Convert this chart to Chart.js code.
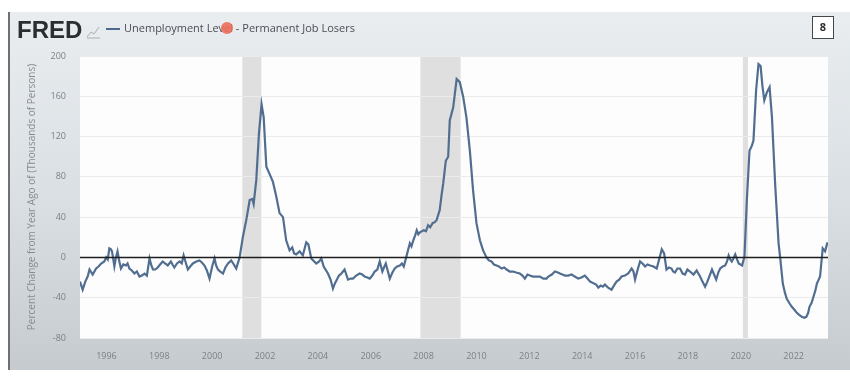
<!DOCTYPE html>
<html>
<head>
<meta charset="utf-8">
<script src="https://cdn.jsdelivr.net/npm/chart.js@4.4.0/dist/chart.umd.min.js"></script>
<style>
  html, body { margin: 0; padding: 0; background: #fff; }
</style>
</head>
<body>
<canvas id="fred" width="850" height="378"></canvas>
<script>
// monthly-ish readings, x as fractional year
const years = [
  1995.00, 1995.10, 1995.20, 1995.29, 1995.36, 1995.48, 1995.61, 1995.70, 1995.80, 1995.92,
  1995.99, 1996.05, 1996.11, 1996.17, 1996.21, 1996.26, 1996.30, 1996.36, 1996.42, 1996.48,
  1996.55, 1996.64, 1996.74, 1996.80, 1996.87, 1996.96, 1997.06, 1997.15, 1997.25, 1997.34,
  1997.44, 1997.53, 1997.63, 1997.70, 1997.76, 1997.85, 1997.94, 1998.03, 1998.13, 1998.22,
  1998.32, 1998.44, 1998.50, 1998.57, 1998.67, 1998.77, 1998.85, 1998.92, 1999.00, 1999.08,
  1999.17, 1999.27, 1999.40, 1999.52, 1999.61, 1999.71, 1999.80, 1999.90, 2000.00, 2000.09,
  2000.15, 2000.22, 2000.31, 2000.41, 2000.50, 2000.60, 2000.72, 2000.82, 2000.91, 2001.04,
  2001.16, 2001.29, 2001.42, 2001.52, 2001.57, 2001.67, 2001.77, 2001.87, 2001.95, 2002.05,
  2002.17, 2002.30, 2002.43, 2002.55, 2002.68, 2002.80, 2002.93, 2003.03, 2003.10, 2003.18,
  2003.31, 2003.43, 2003.56, 2003.64, 2003.75, 2003.94, 2004.05, 2004.13, 2004.22, 2004.38,
  2004.48, 2004.57, 2004.64, 2004.72, 2004.80, 2004.89, 2005.01, 2005.14, 2005.25, 2005.33,
  2005.45, 2005.58, 2005.68, 2005.77, 2005.87, 2005.96, 2006.06, 2006.15, 2006.25, 2006.34,
  2006.44, 2006.50, 2006.57, 2006.65, 2006.72, 2006.82, 2006.91, 2007.00, 2007.10, 2007.18,
  2007.25, 2007.38, 2007.48, 2007.54, 2007.61, 2007.68, 2007.74, 2007.80, 2007.86, 2008.01,
  2008.09, 2008.17, 2008.25, 2008.34, 2008.42, 2008.49, 2008.61, 2008.68, 2008.74, 2008.84,
  2008.93, 2008.99, 2009.12, 2009.25, 2009.37, 2009.50, 2009.62, 2009.75, 2009.87, 2010.00,
  2010.13, 2010.25, 2010.38, 2010.47, 2010.57, 2010.66, 2010.76, 2010.85, 2010.95, 2011.05,
  2011.14, 2011.26, 2011.39, 2011.50, 2011.64, 2011.74, 2011.83, 2011.93, 2012.02, 2012.14,
  2012.27, 2012.40, 2012.53, 2012.65, 2012.72, 2012.85, 2012.97, 2013.08, 2013.16, 2013.25,
  2013.35, 2013.47, 2013.60, 2013.72, 2013.85, 2013.97, 2014.10, 2014.20, 2014.30, 2014.45,
  2014.53, 2014.61, 2014.70, 2014.78, 2014.86, 2014.98, 2015.11, 2015.20, 2015.30, 2015.40,
  2015.49, 2015.62, 2015.74, 2015.87, 2015.94, 2016.00, 2016.10, 2016.19, 2016.28, 2016.38,
  2016.47, 2016.57, 2016.70, 2016.82, 2016.92, 2017.01, 2017.10, 2017.19, 2017.28, 2017.38,
  2017.44, 2017.51, 2017.60, 2017.70, 2017.80, 2017.89, 2017.98, 2018.08, 2018.21, 2018.33,
  2018.46, 2018.55, 2018.65, 2018.72, 2018.78, 2018.91, 2018.99, 2019.07, 2019.15, 2019.22,
  2019.32, 2019.41, 2019.48, 2019.54, 2019.60, 2019.66, 2019.72, 2019.79, 2019.86, 2019.92,
  2020.05, 2020.14, 2020.23, 2020.33, 2020.42, 2020.48, 2020.58, 2020.67, 2020.75, 2020.82,
  2020.89, 2020.99, 2021.09, 2021.18, 2021.30, 2021.43, 2021.49, 2021.59, 2021.67, 2021.74,
  2021.83, 2021.93, 2022.03, 2022.12, 2022.21, 2022.31, 2022.40, 2022.48, 2022.55, 2022.60,
  2022.68, 2022.75, 2022.82, 2022.88, 2023.00, 2023.10, 2023.19, 2023.28
];
const values = [
  -24, -32, -24, -19, -12, -17, -11, -9, -6, -4,
  0, -2, 9, 8, 6, -2, -9, 0, 6, -3,
  -11, -7, -8, -6, -11, -13, -16, -14, -19, -18,
  -16, -18, -1, -8, -12, -12, -10, -7, -4, -6,
  -8, -4, -7, -10, -6, -4, -6, 2, -5, -12,
  -9, -6, -4, -3, -5, -8, -13, -21, -9, -1,
  -8, -12, -14, -16, -10, -6, -3, -7, -11, 0,
  20, 37, 57, 58, 53, 77, 123, 152, 139, 90,
  83, 75, 60, 44, 40, 17, 7, 10, 4, 3,
  6, 2, 15, 13, -1, -6, -4, -1, -9, -16,
  -22, -31, -26, -22, -18, -16, -12, -22, -21, -21,
  -18, -16, -17, -19, -20, -21, -18, -14, -12, -4,
  -14, -10, -6, -14, -21, -15, -11, -9, -8, -6,
  -9, 4, 14, 11, 17, 22, 27, 23, 25, 27,
  26, 32, 30, 34, 35, 37, 47, 62, 73, 96,
  100, 136, 149, 177, 174, 159, 139, 106, 67, 34,
  17, 7, 0, -3, -4, -7, -8, -9, -11, -10,
  -12, -14, -14, -15, -16, -18, -21, -17, -18, -19,
  -19, -19, -21, -21, -19, -17, -14, -15, -16, -17,
  -18, -18, -17, -19, -21, -20, -18, -21, -24, -26,
  -27, -30, -28, -29, -27, -30, -32, -28, -24, -22,
  -19, -18, -16, -11, -14, -22, -12, -4, -6, -9,
  -7, -8, -9, -11, -1, 8, 4, -12, -10, -11,
  -14, -15, -11, -11, -16, -17, -12, -14, -17, -13,
  -19, -24, -29, -25, -21, -12, -17, -22, -15, -11,
  -9, -8, -4, 2, -2, -4, -1, 3, -2, -6,
  -8, 1, 57, 106, 111, 116, 166, 192, 190, 170,
  156, 164, 169, 139, 73, 14, 0, -26, -35, -41,
  -45, -49, -52, -55, -57, -59, -60, -59, -55, -49,
  -45, -39, -33, -26, -19, 9, 6, 15
];
const tickYears = [1996, 1998, 2000, 2002, 2004, 2006, 2008, 2010, 2012, 2014, 2016, 2018, 2020, 2022];
const recessionStart = [2001.14, 2007.88, 2020.08];
const recessionEnd = [2001.86, 2009.40, 2020.27];

const seriesName = 'Unemployment Level - Permanent Job Losers';
const yTitle = 'Percent Change from Year Ago of (Thousands of Persons)';

Chart.defaults.font.family = "'Open Sans', 'DejaVu Sans', sans-serif";
Chart.defaults.font.size = 9;
Chart.defaults.color = '#7b8086';

const fredBackground = {
  id: 'fredBackground',
  beforeDraw(chart) {
    const { ctx, chartArea: a, width, height, scales } = chart;
    ctx.save();
    ctx.fillStyle = '#ffffff';
    ctx.fillRect(0, 0, width, height);
    const g = ctx.createLinearGradient(0, 12, 0, 370);
    g.addColorStop(0, '#e9edf0');
    g.addColorStop(0.5, '#dbe0e4');
    g.addColorStop(1, '#c6cbd0');
    ctx.fillStyle = g;
    ctx.fillRect(10, 12, width - 10, 358);
    ctx.fillStyle = '#6d7175';
    ctx.fillRect(8, 12, 2, 358);
    // plot area
    ctx.fillStyle = '#fdfdfd';
    ctx.fillRect(a.left, a.top, a.right - a.left, a.bottom - a.top);
    // recession bars
    ctx.fillStyle = '#dfdfdf';
    recessionStart.forEach((s, i) => {
      const x0 = scales.x.getPixelForValue(s);
      const x1 = scales.x.getPixelForValue(recessionEnd[i]);
      ctx.fillRect(x0, a.top, x1 - x0, a.bottom - a.top);
    });
    ctx.restore();
  },
  afterDatasetsDraw(chart) {
    const { ctx, chartArea: a, scales } = chart;
    const y0 = scales.y.getPixelForValue(0);
    ctx.save();
    ctx.strokeStyle = '#1e1e1e';
    ctx.lineWidth = 1.6;
    ctx.beginPath();
    ctx.moveTo(a.left, y0);
    ctx.lineTo(a.right, y0);
    ctx.stroke();
    ctx.restore();
  },
  afterDraw(chart) {
    const { ctx } = chart;
    ctx.save();
    // logo
    ctx.fillStyle = '#2b2d30';
    ctx.font = "bold 24px 'Liberation Sans', Arial, sans-serif";
    ctx.textBaseline = 'alphabetic';
    ctx.fillText('FRED', 17, 38);
    // little chart glyph
    ctx.strokeStyle = '#a9b0b6';
    ctx.lineWidth = 1;
    ctx.beginPath();
    ctx.moveTo(87, 37); ctx.lineTo(91, 32); ctx.lineTo(94, 34); ctx.lineTo(99, 27);
    ctx.moveTo(87, 38); ctx.lineTo(100, 38);
    ctx.stroke();
    // legend
    ctx.strokeStyle = '#4d6a8c';
    ctx.lineWidth = 2;
    ctx.beginPath();
    ctx.moveTo(106, 29); ctx.lineTo(120, 29);
    ctx.stroke();
    ctx.fillStyle = '#4a4f55';
    ctx.font = "11px 'Open Sans', sans-serif";
    ctx.textBaseline = 'middle';
    ctx.fillText(seriesName, 124, 29);
    // red pointer dot from the recording
    ctx.fillStyle = 'rgba(236, 110, 90, 0.9)';
    ctx.beginPath();
    ctx.arc(227, 28, 6, 0, Math.PI * 2);
    ctx.fill();
    // page badge
    ctx.fillStyle = '#ffffff';
    ctx.fillRect(812, 16, 21, 22);
    ctx.strokeStyle = '#44484d';
    ctx.lineWidth = 1;
    ctx.strokeRect(812.5, 16.5, 21, 22);
    ctx.fillStyle = '#2b2d30';
    ctx.font = "bold 11px 'Open Sans', sans-serif";
    ctx.textAlign = 'center';
    ctx.fillText('8', 823, 28);
    ctx.restore();
  }
};

new Chart(document.getElementById('fred'), {
  type: 'line',
  data: {
    datasets: [{
      label: seriesName,
      data: years.map((x, i) => ({ x: x, y: values[i] })),
      borderColor: '#516e90',
      borderWidth: 2.2,
      pointRadius: 0,
      tension: 0,
      fill: false
    }]
  },
  options: {
    responsive: false,
    animation: false,
    devicePixelRatio: 1,
    layout: { padding: { top: 56, right: 22, bottom: 8, left: 10 } },
    plugins: { legend: { display: false }, tooltip: { enabled: false } },
    scales: {
      x: {
        type: 'linear',
        min: 1995.0,
        max: 2023.3,
        afterBuildTicks: s => { s.ticks = tickYears.map(v => ({ value: v })); },
        afterFit: s => { s.height = 32; },
        grid: { display: false },
        border: { display: false },
        ticks: { padding: 5, maxRotation: 0, autoSkip: false, callback: v => String(v) }
      },
      y: {
        min: -80,
        max: 200,
        afterFit: s => { s.width = 70; },
        ticks: { stepSize: 40, padding: 14 },
        grid: { color: '#ebebeb', drawTicks: false },
        border: { display: false },
        title: { display: true, text: yTitle, font: { size: 10 }, color: '#868b91', padding: { top: 16, bottom: 0 } }
      }
    }
  },
  plugins: [fredBackground]
});
</script>
</body>
</html>
